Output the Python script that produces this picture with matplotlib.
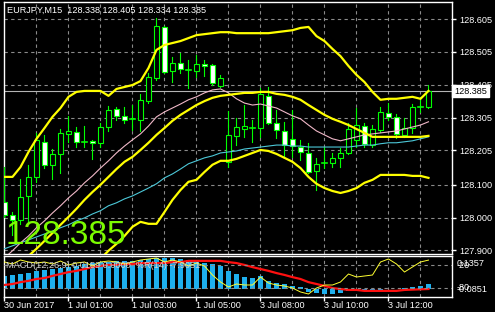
import matplotlib
matplotlib.use("Agg")
import matplotlib.pyplot as plt
from matplotlib.patches import Rectangle
import numpy as np

plt.rcParams['font.family'] = ['Liberation Sans', 'DejaVu Sans']

# EURJPY M15 bars
opens = [128.048, 128.008, 127.993, 128.066, 128.124, 128.230, 128.160, 128.194, 128.255, 128.261,
         128.231, 128.233, 128.227, 128.276, 128.331, 128.310, 128.302, 128.297, 128.355, 128.425,
         128.581, 128.447, 128.471, 128.451, 128.447, 128.468, 128.465, 128.401, 128.169, 128.249,
         128.270, 128.271, 128.273, 128.370, 128.288, 128.264, 128.240, 128.215, 128.197, 128.142,
         128.166, 128.166, 128.182, 128.197, 128.236, 128.279, 128.221, 128.267, 128.319, 128.307,
         128.252, 128.273, 128.337, 128.338]
highs = [128.154, 128.017, 128.118, 128.160, 128.258, 128.252, 128.209, 128.270, 128.310, 128.276,
         128.279, 128.236, 128.288, 128.340, 128.337, 128.337, 128.343, 128.377, 128.441, 128.608,
         128.584, 128.489, 128.501, 128.480, 128.495, 128.480, 128.468, 128.434, 128.325, 128.303,
         128.343, 128.297, 128.395, 128.398, 128.328, 128.291, 128.328, 128.236, 128.227, 128.182,
         128.215, 128.197, 128.212, 128.288, 128.334, 128.288, 128.282, 128.337, 128.349, 128.316,
         128.303, 128.346, 128.367, 128.405]
lows = [128.002, 127.947, 127.981, 127.984, 128.109, 128.151, 128.118, 128.136, 128.230, 128.215,
        128.215, 128.179, 128.215, 128.264, 128.297, 128.288, 128.267, 128.264, 128.349, 128.419,
        128.442, 128.413, 128.441, 128.395, 128.428, 128.431, 128.404, 128.398, 128.154, 128.221,
        128.246, 128.230, 128.246, 128.285, 128.243, 128.185, 128.185, 128.176, 128.136, 128.084,
        128.151, 128.154, 128.154, 128.194, 128.215, 128.215, 128.215, 128.261, 128.297, 128.243,
        128.246, 128.258, 128.322, 128.334]
closes = [128.008, 127.993, 128.063, 128.124, 128.236, 128.160, 128.194, 128.258, 128.264, 128.230,
          128.230, 128.227, 128.276, 128.328, 128.310, 128.297, 128.300, 128.358, 128.428, 128.584,
          128.444, 128.471, 128.453, 128.450, 128.468, 128.462, 128.410, 128.425, 128.252, 128.276,
          128.279, 128.272, 128.377, 128.288, 128.267, 128.221, 128.218, 128.200, 128.139, 128.163,
          128.167, 128.182, 128.197, 128.270, 128.282, 128.224, 128.270, 128.322, 128.307, 128.255,
          128.273, 128.337, 128.338, 128.385]

# bollinger bands
bb_upper = [128.124, 128.124, 128.154, 128.200, 128.240, 128.273, 128.307, 128.334, 128.368, 128.383,
            128.386, 128.386, 128.386, 128.371, 128.392, 128.398, 128.404, 128.416, 128.456, 128.511,
            128.526, 128.532, 128.538, 128.547, 128.556, 128.559, 128.562, 128.565, 128.565, 128.562,
            128.562, 128.562, 128.562, 128.562, 128.565, 128.568, 128.571, 128.578, 128.581, 128.553,
            128.538, 128.514, 128.492, 128.462, 128.435, 128.413, 128.383, 128.359, 128.362, 128.362,
            128.365, 128.368, 128.362, 128.386]
bb_middle = [127.817, 127.835, 127.859, 127.883, 127.905, 127.929, 127.953, 127.978, 128.002, 128.027,
             128.054, 128.078, 128.100, 128.124, 128.148, 128.170, 128.185, 128.206, 128.228, 128.252,
             128.273, 128.295, 128.313, 128.328, 128.343, 128.355, 128.365, 128.371, 128.374, 128.377,
             128.380, 128.380, 128.383, 128.383, 128.377, 128.374, 128.368, 128.359, 128.343, 128.328,
             128.313, 128.301, 128.292, 128.282, 128.270, 128.258, 128.246, 128.246, 128.246, 128.246,
             128.246, 128.246, 128.246, 128.249]
bb_lower = [127.510, 127.546, 127.564, 127.566, 127.570, 127.585, 127.599, 127.622, 127.636, 127.671,
            127.722, 127.770, 127.874, 127.899, 127.920, 127.944, 127.972, 127.987, 127.981, 127.981,
            128.017, 128.054, 128.084, 128.109, 128.115, 128.139, 128.161, 128.173, 128.173, 128.179,
            128.188, 128.197, 128.206, 128.203, 128.194, 128.182, 128.170, 128.151, 128.124, 128.103,
            128.090, 128.081, 128.075, 128.081, 128.090, 128.106, 128.115, 128.130, 128.130, 128.130,
            128.130, 128.127, 128.127, 128.121]

# moving averages (thin pink and cyan)
ma_pink = [127.877, 127.899, 127.923, 127.944, 127.969, 127.990, 128.014, 128.036, 128.060, 128.081,
           128.106, 128.127, 128.151, 128.173, 128.197, 128.218, 128.237, 128.255, 128.279, 128.307,
           128.322, 128.334, 128.346, 128.359, 128.368, 128.380, 128.389, 128.392, 128.380, 128.362,
           128.349, 128.343, 128.346, 128.340, 128.334, 128.322, 128.310, 128.301, 128.282, 128.264,
           128.252, 128.240, 128.234, 128.240, 128.246, 128.252, 128.255, 128.258, 128.261, 128.264,
           128.270, 128.276, 128.282, 128.292]
ma_cyan = [127.905, 127.914, 127.923, 127.932, 127.941, 127.950, 127.959, 127.969, 127.978, 127.990,
           127.999, 128.011, 128.021, 128.036, 128.045, 128.057, 128.066, 128.078, 128.090, 128.103,
           128.121, 128.133, 128.148, 128.164, 128.173, 128.182, 128.188, 128.197, 128.200, 128.203,
           128.209, 128.212, 128.215, 128.218, 128.221, 128.221, 128.218, 128.218, 128.215, 128.215,
           128.215, 128.215, 128.215, 128.215, 128.218, 128.221, 128.221, 128.225, 128.228, 128.228,
           128.231, 128.234, 128.240, 128.246]

# MACD(12,26,9) and %R(14)
macd_hist = [0.042, 0.045, 0.048, 0.051, 0.058, 0.061, 0.064, 0.067, 0.070, 0.074,
             0.080, 0.083, 0.086, 0.086, 0.090, 0.090, 0.090, 0.093, 0.096, 0.099,
             0.099, 0.099, 0.096, 0.093, 0.090, 0.083, 0.080, 0.074, 0.058, 0.048,
             0.038, 0.035, 0.042, 0.026, 0.019, 0.016, 0.010, 0.006, -0.010, -0.013,
             -0.016, -0.016, -0.013, -0.006, -0.006, -0.003, -0.003, -0.003, 0.000, 0.001,
             0.003, 0.006, 0.010, 0.0159]
macd_signal = [0.013, 0.016, 0.022, 0.026, 0.032, 0.035, 0.042, 0.048, 0.054, 0.058,
               0.064, 0.070, 0.074, 0.077, 0.077, 0.080, 0.080, 0.083, 0.083, 0.083,
               0.083, 0.086, 0.086, 0.090, 0.090, 0.090, 0.090, 0.090, 0.086, 0.083,
               0.077, 0.070, 0.064, 0.058, 0.051, 0.045, 0.038, 0.032, 0.022, 0.016,
               0.010, 0.003, 0.000, -0.003, -0.003, -0.006, -0.006, -0.006, -0.006, -0.006,
               -0.003, -0.002, -0.001, 0.000]
wpr = [-12.8, -17.9, -7.7, -12.8, -15.4, -12.8, -17.9, -10.3, -20.5, -15.4,
       -12.8, -23.1, -12.8, -10.3, -12.8, -17.9, -12.8, -7.7, -5.1, -2.6,
       -12.8, -7.7, -12.8, -23.1, -15.4, -23.1, -46.2, -64.1, -76.9, -69.2,
       -71.8, -71.8, -51.3, -66.7, -71.8, -74.4, -79.5, -89.7, -94.9, -79.5,
       -71.8, -71.8, -64.1, -43.6, -51.3, -48.7, -46.2, -12.8, -5.1, -17.9,
       -38.5, -25.6, -12.8, -7.9]

price_ticks = [128.605, 128.505, 128.405, 128.305, 128.205, 128.100, 128.000, 127.900]
price_labels = ['128.605', '128.505', '128.405', '128.305', '128.205', '128.100', '128.000', '127.900']
time_bars = [0, 8, 16, 24, 32, 40, 48]
time_labels = ['30 Jun 2017', '1 Jul 01:00', '1 Jul 03:00', '1 Jul 05:00',
               '3 Jul 08:00', '3 Jul 10:00', '3 Jul 12:00']
grid_bars = list(range(4, 54, 4))
last_price = 128.385
title = "EURJPY,M15  128.338 128.405 128.334 128.385"
sub_title = "MACD(12,26,9) 0.0159 0.0000  %R(14) -7.9051"

LIME = '#00ff00'
GRID = '#8a8a8a'
W, H = 495, 312

fig = plt.figure(figsize=(W / 100, H / 100), dpi=100, facecolor='black')


def box(x0, y0, x1, y1):
    return [x0 / W, 1 - y1 / H, (x1 - x0) / W, (y1 - y0) / H]


def ftext(x, y, s, **kw):
    fig.text(x / W, 1 - y / H, s, **kw)


ax = fig.add_axes(box(4, 2, 452, 254))
axm = fig.add_axes(box(4, 256, 452, 297))
xlim = (-0.0625, 55.94)

for a in (ax, axm):
    a.set_facecolor('black')
    a.set_xlim(*xlim)
    for sp in a.spines.values():
        sp.set_color('white')
        sp.set_linewidth(1)
    for k in grid_bars:
        a.axvline(k, color=GRID, lw=0.8, ls=(0, (3, 3)), zorder=0)

# main price window
ax.set_ylim(127.889, 128.657)
for p in price_ticks:
    ax.axhline(p, color=GRID, lw=0.8, ls=(0, (3, 3)), zorder=0)
ax.axhline(last_price, color='#b4b4b4', lw=0.8, zorder=1)

x = np.arange(len(closes))
for i in x:
    ax.plot([i, i], [lows[i], highs[i]], color=LIME, lw=0.8, zorder=3)
    o, c = opens[i], closes[i]
    if abs(c - o) < 0.0035:
        ax.plot([i - 0.3, i + 0.3], [c, c], color=LIME, lw=1.2, zorder=4)
    else:
        face = 'black' if c > o else 'white'
        ax.add_patch(Rectangle((i - 0.27, min(o, c)), 0.54, abs(c - o),
                               facecolor=face, edgecolor=LIME, lw=0.8, zorder=4))

ax.plot(x, ma_cyan, color='#4cc8d8', lw=0.8, zorder=5)
ax.plot(x, ma_pink, color='#f0b8c8', lw=0.8, zorder=5)
for band in (bb_upper, bb_middle, bb_lower):
    ax.plot(x, band, color='#ffff00', lw=1.6, zorder=6)

ax.set_xticks([])
ax.yaxis.tick_right()
ax.set_yticks(price_ticks)
ax.set_yticklabels(price_labels)
ax.tick_params(axis='y', colors='white', labelsize=6.6, length=3, width=1, pad=2)
# bid price tag sits over the 128.405 label, as in the terminal
ax.text(1.0045, last_price, '128.385', transform=ax.get_yaxis_transform(), color='black',
        fontsize=6.6, va='center', ha='left', zorder=20, clip_on=False,
        bbox=dict(facecolor='white', edgecolor='white', pad=1.2))

ftext(7, 10, title, color='white', fontsize=6.6, va='center')
ftext(6, 243.5, '128.385', color='#7cfc00', fontsize=24, va='baseline', zorder=10)

# MACD / %R window
axm.set_ylim(-0.0256, 0.1056)
axm.bar(x, macd_hist, width=0.55, color='#1eb0ee', zorder=2)
axm.plot(x, macd_signal, color='#ff1010', lw=1.6, zorder=4)
axm.set_yticks([])
axm.set_xticks(time_bars)
axm.set_xticklabels([])
axm.tick_params(axis='x', colors='white', length=3, width=1)

axw = axm.twinx()
axw.set_ylim(-102.6, 2.6)
axw.set_yticks([])
axw.axis('off')
for lvl in (-20, -80):
    axw.axhline(lvl, color=GRID, lw=0.8, ls=(0, (3, 3)), zorder=0)
axw.plot(x, wpr, color='#ffff30', lw=0.7, zorder=3)

ftext(6, 266, sub_title, color='#d0d0d0', fontsize=6.6, va='center')
# the two indicator scales share the right edge and print over each other
ftext(457, 263, '0.1357', color='white', fontsize=6.6, va='center')
ftext(457, 266, '-20', color='white', fontsize=6.6, va='center')
ftext(457, 290, '-0.0851', color='white', fontsize=6.6, va='center')
ftext(457, 288, '-80', color='white', fontsize=6.6, va='center')

for k, lab in zip(time_bars, time_labels):
    ftext(4.5 + 8 * k - 1, 305, lab, color='white', fontsize=6.6, va='center', ha='left')

fig.savefig('out.png', dpi=100, facecolor='black')
